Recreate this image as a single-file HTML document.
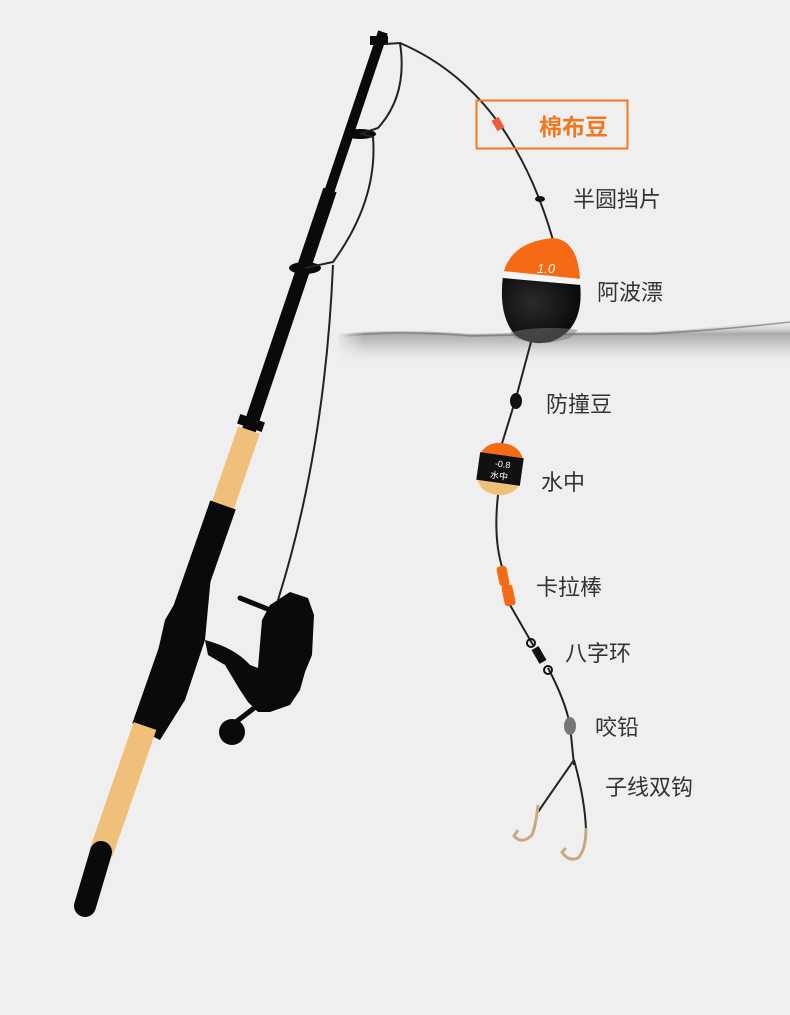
<!DOCTYPE html>
<html><head><meta charset="utf-8"><style>
html,body{margin:0;padding:0;background:#efefef;}
svg{display:block}
text{font-family:"Liberation Sans","Noto Sans CJK SC",sans-serif;}
</style></head><body>
<svg width="790" height="1015" viewBox="0 0 790 1015" xmlns="http://www.w3.org/2000/svg">
<defs>
<linearGradient id="wv" x1="0" y1="0" x2="0" y2="1">
<stop offset="0" stop-color="#efefef" stop-opacity="0"/>
<stop offset="0.3" stop-color="#9a9a9a" stop-opacity="0.8"/>
<stop offset="0.55" stop-color="#c4c4c4" stop-opacity="0.8"/>
<stop offset="1" stop-color="#efefef" stop-opacity="0"/>
</linearGradient>
<linearGradient id="wfade" x1="0" y1="0" x2="1" y2="0">
<stop offset="0" stop-color="#efefef" stop-opacity="1"/>
<stop offset="1" stop-color="#efefef" stop-opacity="0"/>
</linearGradient>
<radialGradient id="blk" cx="0.4" cy="0.4" r="0.7">
<stop offset="0" stop-color="#2a2a2a"/><stop offset="1" stop-color="#050505"/>
</radialGradient>
</defs>
<rect width="790" height="1015" fill="#efefef"/>
<!-- water -->
<path d="M338,334 Q400,328 470,334 Q560,332 650,332 Q720,328 750,322 L790,320 L790,366 L338,362 Z" fill="url(#wv)"/>
<path d="M345,336 Q400,330 470,336 Q560,334 650,334 Q720,330 790,322" fill="none" stroke="#666" stroke-width="1.5" opacity="0.6"/>
<rect x="334" y="320" width="30" height="50" fill="url(#wfade)"/>
<!-- rod -->
<line x1="383" y1="32" x2="249" y2="430" stroke="#0a0a0a" stroke-width="10"/>
<line x1="330" y1="190" x2="249" y2="430" stroke="#0a0a0a" stroke-width="14"/>
<line x1="249" y1="430" x2="223" y2="505" stroke="#f0c07a" stroke-width="23"/>
<line x1="223" y1="505" x2="145" y2="728" stroke="#0a0a0a" stroke-width="27"/>
<polygon points="200,560 212,565 205,640 185,700 160,740 140,730 165,620" fill="#0a0a0a"/>
<line x1="145" y1="726" x2="101" y2="853" stroke="#f0c07a" stroke-width="24"/>
<line x1="101" y1="852" x2="85" y2="906" stroke="#0a0a0a" stroke-width="22" stroke-linecap="round"/>
<rect x="238" y="418" width="26" height="10" fill="#0a0a0a" transform="rotate(19 251 423)"/>
<!-- guides -->
<rect x="370" y="36" width="18" height="9" fill="#0a0a0a"/>
<ellipse cx="360" cy="134" rx="16" ry="5" fill="#0a0a0a"/>
<ellipse cx="305" cy="268" rx="16" ry="6" fill="#0a0a0a"/>
<!-- line loops -->
<path d="M385,44 L400,43 Q408,95 378,128 L360,134" fill="none" stroke="#222" stroke-width="2"/>
<path d="M362,134 L373,137 Q378,200 333,262 L305,268" fill="none" stroke="#222" stroke-width="2"/>
<path d="M333,265 Q325,450 278,600" fill="none" stroke="#222" stroke-width="2"/>
<!-- main line -->
<path d="M400,43 Q510,90 553,240" fill="none" stroke="#222" stroke-width="2"/>
<!-- reel -->
<path d="M205,640 Q235,648 250,665 L258,668 L262,620 L270,605 L290,592 L308,598 L314,615 L312,655 L305,672 L300,690 L290,705 L270,712 L258,712 L248,702 L240,690 L225,665 L208,655 Z" fill="#0a0a0a"/>
<line x1="240" y1="598" x2="275" y2="612" stroke="#0a0a0a" stroke-width="5" stroke-linecap="round"/>
<line x1="258" y1="705" x2="232" y2="725" stroke="#0a0a0a" stroke-width="5"/>
<circle cx="232" cy="732" r="13" fill="#0a0a0a"/>
<!-- 棉布豆 -->
<rect x="476.5" y="100.5" width="151" height="48" fill="none" stroke="#f07a20" stroke-width="2"/>
<rect x="494" y="118" width="8" height="12" fill="#f05a3a" transform="rotate(-30 498 124)"/>
<text x="539" y="135" font-size="23" font-weight="bold" fill="#f07a20">棉布豆</text>
<!-- stopper -->
<ellipse cx="540" cy="199" rx="5" ry="3" fill="#111"/>
<text x="573" y="207" font-size="22" fill="#333">半圆挡片</text>
<!-- main float -->
<path d="M553,238 Q578,240 580,280 L503,275 Q510,242 553,238 Z" fill="#f56a14"/>
<path d="M503,276 L580,283 Q585,330 550,342 Q530,346 515,335 Q498,315 503,276 Z" fill="url(#blk)"/>
<path d="M503,271 L581,279 L581,285 L503,278 Z" fill="#f5f5f5"/>
<text x="537" y="273" font-size="13" fill="#fff" font-style="italic" font-family="Liberation Serif,serif">1.0</text>
<path d="M510,332 Q545,325 578,330 L570,338 Q540,348 515,338 Z" fill="#777" opacity="0.5"/>
<text x="597" y="300" font-size="22" fill="#333">阿波漂</text>
<!-- line below -->
<path d="M531,342 L516,398 L500,450 M498,495 Q493,540 503,570 M510,605 L533,645 M548,668 Q565,700 570,725 L574,765" fill="none" stroke="#222" stroke-width="2"/>
<ellipse cx="516" cy="401" rx="6" ry="8" fill="#111"/>
<text x="546" y="412" font-size="22" fill="#333">防撞豆</text>
<!-- small float -->
<g transform="rotate(8 500 469)">
<path d="M479,455 Q485,443 500,443 Q515,443 521,455 Z" fill="#f56a14"/>
<rect x="478" y="455" width="44" height="28" fill="#111"/>
<path d="M479,483 L521,483 Q515,495 500,495 Q485,495 479,483 Z" fill="#f0c07a"/>
<text x="502" y="467" font-size="9" fill="#fff" text-anchor="middle">-0.8</text>
<text x="500" y="479" font-size="9" fill="#fff" text-anchor="middle">水中</text>
</g>
<text x="541" y="490" font-size="22" fill="#333">水中</text>
<!-- karabar -->
<rect x="498" y="566" width="10" height="20" rx="3" fill="#f56a14" transform="rotate(-12 503 576)"/>
<rect x="503" y="585" width="11" height="21" rx="3" fill="#f56a14" transform="rotate(-12 508 595)"/>
<text x="536" y="595" font-size="22" fill="#333">卡拉棒</text>
<!-- swivel -->
<circle cx="531" cy="643" r="4" fill="none" stroke="#111" stroke-width="2"/>
<rect x="535" y="647" width="8" height="16" fill="#111" transform="rotate(-30 539 655)"/>
<circle cx="548" cy="670" r="4" fill="none" stroke="#111" stroke-width="2"/>
<text x="565" y="661" font-size="22" fill="#333">八字环</text>
<!-- sinker -->
<ellipse cx="570" cy="726" rx="6" ry="9" fill="#777"/>
<text x="595" y="735" font-size="22" fill="#333">咬铅</text>
<!-- hooks -->
<path d="M574,760 Q560,780 538,812 M574,760 Q585,800 586,830" fill="none" stroke="#222" stroke-width="2"/>
<path d="M538,805 Q536,825 532,835 Q522,845 514,836 L518,830" fill="none" stroke="#c8aa80" stroke-width="3"/>
<path d="M586,828 Q586,850 578,858 Q568,862 562,852 L566,848" fill="none" stroke="#c8aa80" stroke-width="3"/>
<text x="605" y="795" font-size="22" fill="#333">子线双钩</text>
</svg>
</body></html>
